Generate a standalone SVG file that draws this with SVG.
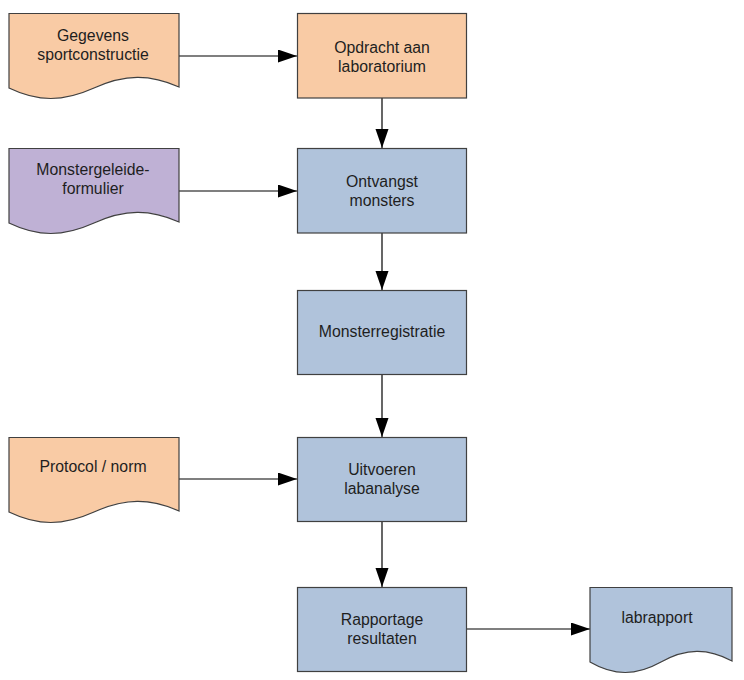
<svg xmlns="http://www.w3.org/2000/svg" width="744" height="680" viewBox="0 0 744 680">
<defs>
<style>
.box{stroke:#404040;stroke-width:1.2}
.orange{fill:#F9CBA5}
.purple{fill:#BFB1D5}
.blue{fill:#B0C3DB}
text{font-family:"Liberation Sans",Arial,sans-serif;font-size:15.8px;fill:#1e1e1e;text-anchor:middle}
.conn{stroke:#000;stroke-width:1.2;fill:none;marker-end:url(#arr)}
</style>
<marker id="arr" markerUnits="userSpaceOnUse" markerWidth="20" markerHeight="14" refX="19" refY="6.5" orient="auto">
<path d="M0,0 L19,6.5 L0,13 Z" fill="#000"/>
</marker>
</defs>
<rect width="744" height="680" fill="#fff"/>
<g id="connectors">
<line class="conn" x1="179" y1="56" x2="297" y2="56"/>
<line class="conn" x1="179" y1="191" x2="297" y2="191"/>
<line class="conn" x1="179" y1="479" x2="297" y2="479"/>
<line class="conn" x1="467" y1="629" x2="590" y2="629"/>
<line class="conn" x1="382" y1="98" x2="382" y2="148"/>
<line class="conn" x1="382" y1="233" x2="382" y2="290"/>
<line class="conn" x1="382" y1="374" x2="382" y2="437"/>
<line class="conn" x1="382" y1="521" x2="382" y2="587"/>
</g>
<g id="doc-gegevens">
<path class="box orange" d="M9,13.5 H179 V87 C150,74 125,74 94,88 C63,102 38,102 9,88 Z"/>
<text x="93" y="41">Gegevens</text>
<text x="93" y="60">sportconstructie</text>
</g>
<g id="box-opdracht">
<rect class="box orange" x="297.5" y="13.5" width="169" height="84.5"/>
<text x="382" y="53">Opdracht aan</text>
<text x="382" y="72">laboratorium</text>
</g>
<g id="doc-monstergeleide">
<path class="box purple" d="M9,148.5 H179 V222 C150,209 125,209 94,223 C63,237 38,237 9,223 Z"/>
<text x="93" y="175">Monstergeleide-</text>
<text x="93" y="194">formulier</text>
</g>
<g id="box-ontvangst">
<rect class="box blue" x="297.5" y="148.5" width="169" height="84.5"/>
<text x="382" y="187">Ontvangst</text>
<text x="382" y="206">monsters</text>
</g>
<g id="box-monsterregistratie">
<rect class="box blue" x="297.5" y="290.5" width="169" height="84"/>
<text x="382" y="337">Monsterregistratie</text>
</g>
<g id="doc-protocol">
<path class="box orange" d="M9,437.5 H179 V511 C150,498 125,498 94,512 C63,526 38,526 9,512 Z"/>
<text x="93" y="472">Protocol / norm</text>
</g>
<g id="box-uitvoeren">
<rect class="box blue" x="297.5" y="437.5" width="169" height="84"/>
<text x="382" y="475">Uitvoeren</text>
<text x="382" y="494">labanalyse</text>
</g>
<g id="box-rapportage">
<rect class="box blue" x="297.5" y="587.5" width="169" height="84"/>
<text x="382" y="625">Rapportage</text>
<text x="382" y="644">resultaten</text>
</g>
<g id="doc-labrapport">
<path class="box blue" d="M590,587.5 H732 V661 C708,648 686,648 661,662 C636,676 614,676 590,662 Z"/>
<text x="657" y="623">labrapport</text>
</g>
</svg>
